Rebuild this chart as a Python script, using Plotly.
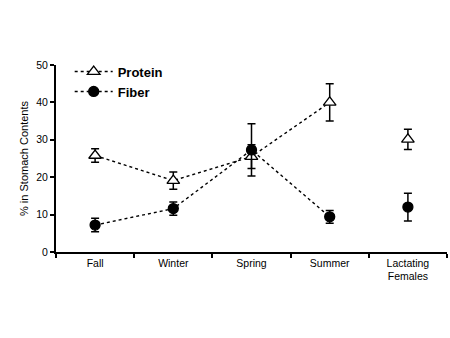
import plotly.graph_objects as go

categories = ["Fall", "Winter", "Spring", "Summer", "Lactating<br>Females"]
protein_mean = [25.8, 19.1, 25.5, 40.0, 30.1]
protein_err = [1.8, 2.3, 3.2, 5.0, 2.7]
fiber_mean = [7.2, 11.6, 27.3, 9.4, 12.0]
fiber_err = [1.8, 1.8, 7.0, 1.7, 3.7]
y_ticks = [0, 10, 20, 30, 40, 50]

fig = go.Figure()

def add_series(name, mean, err, symbol, fill, size):
    marker = dict(symbol=symbol, size=size, color=fill, line=dict(color="black", width=1.3))
    fig.add_trace(go.Scatter(
        x=categories[:4], y=mean[:4], name=name, mode="lines+markers",
        line=dict(color="black", width=1.4, dash="dot"),
        marker=marker,
        error_y=dict(type="data", array=err[:4], color="black", thickness=1.5, width=4),
    ))
    fig.add_trace(go.Scatter(
        x=categories[4:], y=mean[4:], name=name, mode="markers", showlegend=False,
        marker=marker,
        error_y=dict(type="data", array=err[4:], color="black", thickness=1.5, width=4),
    ))

add_series("Protein", protein_mean, protein_err, "triangle-up", "white", 11)
add_series("Fiber", fiber_mean, fiber_err, "circle", "black", 10)

fig.update_layout(
    width=450, height=338,
    margin=dict(l=56, r=3, t=65, b=86),
    paper_bgcolor="white", plot_bgcolor="white",
    font=dict(family="Liberation Sans, Arial, sans-serif", color="black", size=10),
    showlegend=True,
    legend=dict(x=0.035, y=1.045, xanchor="left", yanchor="top",
                font=dict(size=13, family="Liberation Sans, Arial, sans-serif", weight="bold"),
                bgcolor="rgba(0,0,0,0)", tracegroupgap=0, itemwidth=38),
    xaxis=dict(type="category", categoryorder="array", categoryarray=categories,
               range=[-0.5, 4.5], showline=True, linecolor="black", linewidth=2,
               ticks="outside", tickson="boundaries", ticklen=4, tickwidth=1.5,
               tickcolor="black", showgrid=False, zeroline=False,
               tickfont=dict(size=10.5)),
    yaxis=dict(range=[0, 50], tickvals=y_ticks, showline=True, linecolor="black",
               linewidth=2, ticks="outside", ticklen=4, tickwidth=1.5, tickcolor="black",
               showgrid=False, zeroline=False, tickfont=dict(size=10.5),
               title=dict(text="% in Stomach Contents", font=dict(size=11), standoff=5)),
)

fig.write_html("out.html")
